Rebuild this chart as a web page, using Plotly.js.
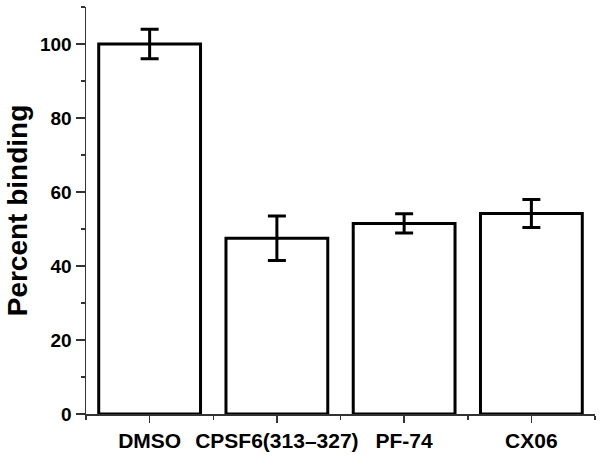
<!DOCTYPE html>
<html>
<head>
<meta charset="utf-8">
<script src="https://cdn.plot.ly/plotly-3.0.1.min.js"></script>
<style>html,body{margin:0;padding:0;background:#fff;}#chart{width:600px;height:455px;}</style>
</head>
<body>
<div id="chart"></div>
<script>
const categories = ["DMSO", "CPSF6(313\u2013327)", "PF-74", "CX06"];
const percentBinding = [100, 47.5, 51.5, 54.2];
const errorValues = [4.0, 6.0, 2.6, 3.8];
const yTickValues = [0, 20, 40, 60, 80, 100];

const positions = categories.map((c, i) => i);

const trace = {
  type: "bar",
  x: positions,
  y: percentBinding,
  width: 0.8,
  marker: { color: "#ffffff", line: { color: "#000000", width: 3 } },
  error_y: { type: "data", array: errorValues, visible: true, color: "#000000", thickness: 3, width: 9 },
  hoverinfo: "skip"
};

const axisFont = { family: "Liberation Sans, Arial, sans-serif", size: 21, weight: "bold", color: "#000" };

const layout = {
  width: 600, height: 455,
  margin: { l: 86, r: 5, t: 7, b: 41 },
  paper_bgcolor: "#ffffff",
  plot_bgcolor: "#ffffff",
  showlegend: false,
  xaxis: {
    type: "linear",
    range: [-0.5, 3.5],
    tickvals: positions,
    ticktext: categories,
    showgrid: false, zeroline: false,
    showline: true, linecolor: "#333", linewidth: 1.5,
    ticks: "outside", ticklen: 7, tickwidth: 1.5, tickcolor: "#333",
    minor: { tick0: 0.5, dtick: 1, ticks: "outside", ticklen: 4, tickwidth: 1.5, tickcolor: "#333", showgrid: false },
    tickfont: axisFont,
    fixedrange: true
  },
  yaxis: {
    range: [0, 110],
    tickvals: yTickValues,
    showgrid: false, zeroline: false,
    showline: true, linecolor: "#333", linewidth: 1.5,
    ticks: "outside", ticklen: 9, tickwidth: 1.5, tickcolor: "#333",
    minor: { tick0: 0, dtick: 10, ticks: "outside", ticklen: 4, tickwidth: 1.5, tickcolor: "#333", showgrid: false },
    tickfont: { family: "Liberation Sans, Arial, sans-serif", size: 19, weight: "bold", color: "#000" },
    title: { text: "Percent binding", font: { family: "Liberation Sans, Arial, sans-serif", size: 28, weight: "bold", color: "#000" }, standoff: 4 },
    fixedrange: true
  }
};

Plotly.newPlot("chart", [trace], layout, { displayModeBar: false, staticPlot: true });
</script>
</body>
</html>
